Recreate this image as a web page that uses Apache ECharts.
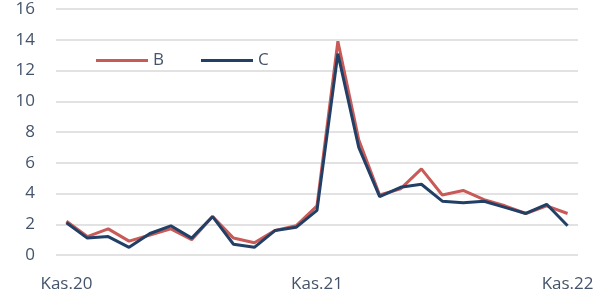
<!DOCTYPE html>
<html>
<head>
<meta charset="utf-8">
<script src="https://cdn.jsdelivr.net/npm/echarts@6/dist/echarts.min.js"></script>
<style>html,body{margin:0;padding:0;background:#fff}#c{width:609px;height:297px}</style>
</head>
<body>
<div id="c"></div>
<script>
const categories = ['Kas.20','Ara.20','Oca.21','Şub.21','Mar.21','Nis.21','May.21','Haz.21','Tem.21','Ağu.21','Eyl.21','Eki.21',
  'Kas.21','Ara.21','Oca.22','Şub.22','Mar.22','Nis.22','May.22','Haz.22','Tem.22','Ağu.22','Eyl.22','Eki.22','Kas.22'];
const seriesB = [2.2,1.2,1.7,0.9,1.3,1.7,1.0,2.5,1.1,0.8,1.6,1.9,3.2,13.9,7.5,3.9,4.3,5.6,3.9,4.2,3.6,3.2,2.7,3.2,2.7];
const seriesC = [2.1,1.1,1.2,0.5,1.4,1.9,1.1,2.5,0.7,0.5,1.6,1.8,2.9,13.1,7.0,3.8,4.4,4.6,3.5,3.4,3.5,3.1,2.7,3.3,1.9];
const yTicks = {min:0, max:16, interval:2};

const txt = '#44546A';
const font = 'Open Sans';
const chart = echarts.init(document.getElementById('c'));
chart.setOption({
  animation:false,
  grid:{left:56,right:31,top:9,bottom:42,containLabel:false},
  legend:{
    left:91, top:47, itemWidth:52, itemHeight:3, itemGap:37, icon:'rect',
    textStyle:{color:txt,fontFamily:font,fontSize:17},
    data:['B','C']
  },
  xAxis:{
    type:'category', data:categories, boundaryGap:true,
    axisLine:{show:false}, axisTick:{show:false},
    axisLabel:{interval:11, color:txt, fontFamily:font, fontSize:17, margin:21}
  },
  yAxis:{
    type:'value', min:yTicks.min, max:yTicks.max, interval:yTicks.interval,
    axisLine:{show:false}, axisTick:{show:false},
    axisLabel:{color:txt, fontFamily:font, fontSize:17, margin:21},
    splitLine:{lineStyle:{color:'#D9D9D9',width:1.5}}
  },
  series:[
    {name:'B',type:'line',data:seriesB,symbol:'none',lineStyle:{color:'#C85A58',width:3},itemStyle:{color:'#C85A58'}},
    {name:'C',type:'line',data:seriesC,symbol:'none',lineStyle:{color:'#223F66',width:3},itemStyle:{color:'#223F66'}}
  ]
});
</script>
</body>
</html>
